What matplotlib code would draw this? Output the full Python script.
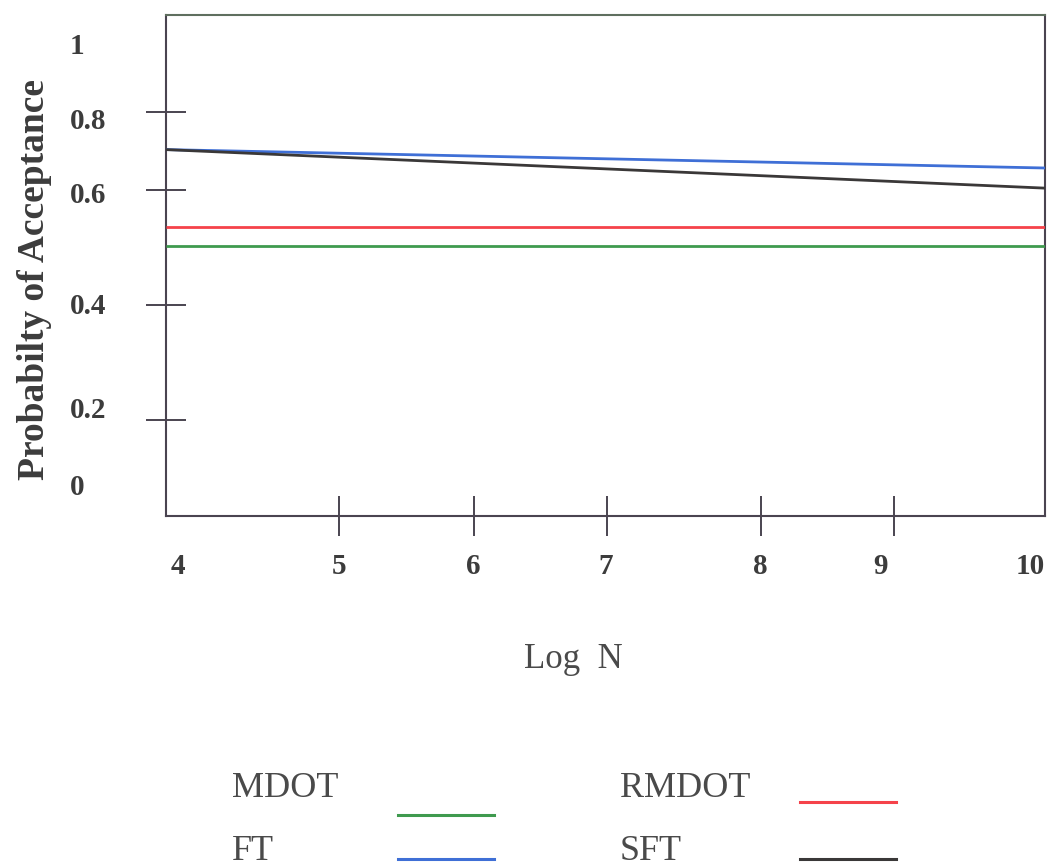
import matplotlib
matplotlib.use("Agg")
import matplotlib.pyplot as plt
from matplotlib.lines import Line2D
import matplotlib.transforms as mtransforms

# ---------------- data ----------------
log_n = [4, 10]
mdot = [0.503, 0.503]
rmdot = [0.535, 0.535]
ft = [0.670, 0.638]
sft = [0.670, 0.603]

series_names = ["MDOT", "RMDOT", "FT", "SFT"]
series_values = [mdot, rmdot, ft, sft]
series_colors = ["#3f9a4e", "#f5424a", "#3f6fd6", "#3a3838"]

# tick marks / labels as they appear in the (hand-drawn) original
xtick_pos = [5.18, 6.10, 7.01, 8.06, 8.97]
xlabel_pos = [4.08, 5.18, 6.10, 7.00, 8.06, 8.88, 9.90]
xlabel_txt = ["4", "5", "6", "7", "8", "9", "10"]
ytick_pos = [0.2, 0.4, 0.6, 0.736]
ylabel_pos = [0.082, 0.217, 0.397, 0.591, 0.718, 0.849]
ylabel_txt = ["0", "0.2", "0.4", "0.6", "0.8", "1"]

# ---------------- figure ----------------
W, H = 1048, 867
fig = plt.figure(figsize=(W / 100, H / 100), dpi=100)
ax = fig.add_axes([166 / W, 1 - 516 / H, (1045 - 166) / W, (516 - 15) / H])

serif = ["Liberation Serif", "DejaVu Serif"]
txtcol = "#3c3c3c"

for vals, col in zip(series_values, series_colors):
    ax.plot(log_n, vals, color=col, lw=2.0, solid_capstyle="butt", zorder=3)

ax.set_xlim(4, 10)
ax.set_ylim(0.033, 0.904)

ax.set_xticks(xtick_pos)
ax.set_xticklabels([])
ax.set_yticks(ytick_pos)
ax.set_yticklabels([])
ax.tick_params(axis="both", direction="inout", length=29, width=1.4, color="#4a4450")

for side in ["left", "bottom", "right"]:
    ax.spines[side].set_color("#4a4450")
    ax.spines[side].set_linewidth(1.5)
ax.spines["top"].set_color("#5f6f5f")
ax.spines["top"].set_linewidth(1.5)

# tick labels
bx = mtransforms.blended_transform_factory(ax.transData, fig.transFigure)
for p, t in zip(xlabel_pos, xlabel_txt):
    ax.text(p, 1 - 566 / H, t, transform=bx, ha="center", va="center",
            fontsize=21, fontweight="bold", family=serif, color=txtcol)
by = mtransforms.blended_transform_factory(fig.transFigure, ax.transData)
for p, t in zip(ylabel_pos, ylabel_txt):
    ax.text(70 / W, p, t, transform=by, ha="left", va="center",
            fontsize=21, fontweight="bold", family=serif, color=txtcol)

fig.text(35 / W, 1 - 280 / H, "Probabilty of Acceptance", rotation=90,
         ha="center", va="center", fontsize=27, fontweight="bold",
         family=serif, color=txtcol)
fig.text(573 / W, 1 - 660 / H, "Log  N", ha="center", va="center",
         fontsize=25, family=serif, color="#4a4a4a")

# legend (text left, line right, as in the original)
leg_text_xy = [(232, 797), (620, 797), (232, 860), (620, 860)]
leg_line = [(398, 494, 815), (800, 896, 802), (398, 494, 859), (800, 896, 859)]
for name, col, (tx, ty), (x0, x1, ly) in zip(series_names, series_colors, leg_text_xy, leg_line):
    fig.text(tx / W, 1 - ty / H, name, ha="left", va="baseline",
             fontsize=26, family=serif, color="#4a4a4a")
    fig.add_artist(Line2D([x0 / W, x1 / W], [1 - ly / H, 1 - ly / H],
                          transform=fig.transFigure, color=col, lw=2.2))

fig.savefig("out.png", dpi=100)
